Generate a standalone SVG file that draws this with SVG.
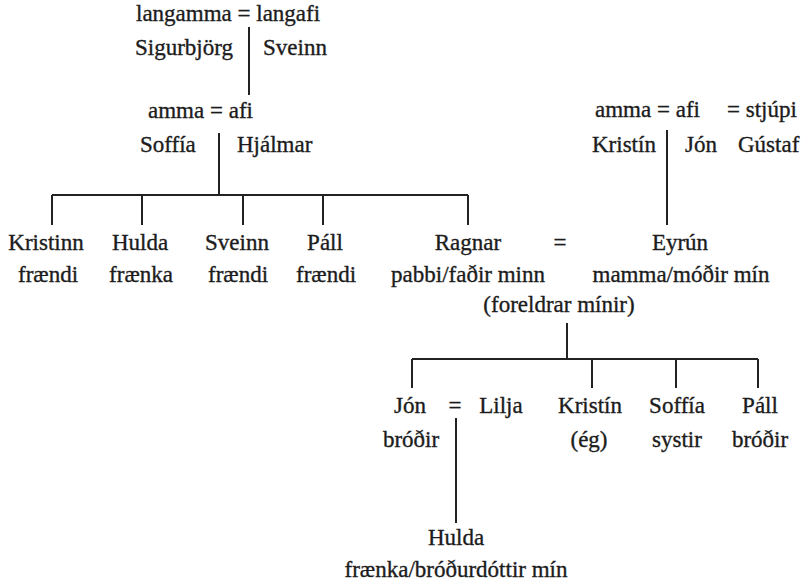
<svg xmlns="http://www.w3.org/2000/svg" width="806" height="583" viewBox="0 0 806 583">
<style>
text{font-family:"Liberation Serif","Times New Roman",serif;font-size:23px;fill:#1c1c1c;stroke:#1c1c1c;stroke-width:0.35}
.m{text-anchor:middle}
.ln{stroke:#222;stroke-width:2;fill:none}
</style>
<rect width="806" height="583" fill="#fff"/>
<g id="connectors" class="ln">
<path d="M249 27V95"/>
<path d="M219 133V195"/>
<path d="M52 195H468"/>
<path d="M52 195V225M142 195V225M243 195V225M323 195V225M468 195V225"/>
<path d="M667 130V225"/>
<path d="M567 323V359"/>
<path d="M412 359H758"/>
<path d="M412 359V388M592 359V388M676 359V388M758 359V388"/>
<path d="M456 418V523"/>
</g>
<g id="great-grandparents">
<text x="136" y="21">langamma = langafi</text>
<text x="135" y="55">Sigurbjörg</text>
<text x="263" y="55">Sveinn</text>
</g>
<g id="paternal-grandparents">
<text x="148" y="118">amma = afi</text>
<text x="140" y="152">Soffía</text>
<text x="237" y="152">Hjálmar</text>
</g>
<g id="maternal-grandparents">
<text x="595" y="117">amma = afi</text>
<text x="727" y="117">= stjúpi</text>
<text x="592" y="152">Kristín</text>
<text x="685" y="152">Jón</text>
<text x="738" y="152">Gústaf</text>
</g>
<g id="kristinn" class="m"><text x="46" y="250" class="m">Kristinn</text><text x="48" y="282" class="m">frændi</text></g>
<g id="hulda-aunt"><text x="140" y="250" class="m">Hulda</text><text x="141" y="282" class="m">frænka</text></g>
<g id="sveinn"><text x="237" y="250" class="m">Sveinn</text><text x="238" y="282" class="m">frændi</text></g>
<g id="pall-uncle"><text x="325" y="250" class="m">Páll</text><text x="326" y="282" class="m">frændi</text></g>
<g id="ragnar"><text x="468" y="250" class="m">Ragnar</text><text x="468" y="282" class="m">pabbi/faðir minn</text></g>
<g id="parents-marriage"><text x="560" y="250" class="m">=</text><text x="559" y="312" class="m">(foreldrar mínir)</text></g>
<g id="eyrun"><text x="680" y="250" class="m">Eyrún</text><text x="681" y="282" class="m">mamma/móðir mín</text></g>
<g id="jon"><text x="410" y="413" class="m">Jón</text><text x="411" y="447" class="m">bróðir</text></g>
<g id="jon-lilja-marriage"><text x="455" y="413" class="m">=</text></g>
<g id="lilja"><text x="501" y="413" class="m">Lilja</text></g>
<g id="kristin-me"><text x="590" y="413" class="m">Kristín</text><text x="589" y="447" class="m">(ég)</text></g>
<g id="soffia-sister"><text x="677" y="413" class="m">Soffía</text><text x="677" y="447" class="m">systir</text></g>
<g id="pall-brother"><text x="760" y="413" class="m">Páll</text><text x="760" y="447" class="m">bróðir</text></g>
<g id="hulda-niece"><text x="456" y="545" class="m">Hulda</text><text x="456" y="577" class="m">frænka/bróðurdóttir mín</text></g>
</svg>
